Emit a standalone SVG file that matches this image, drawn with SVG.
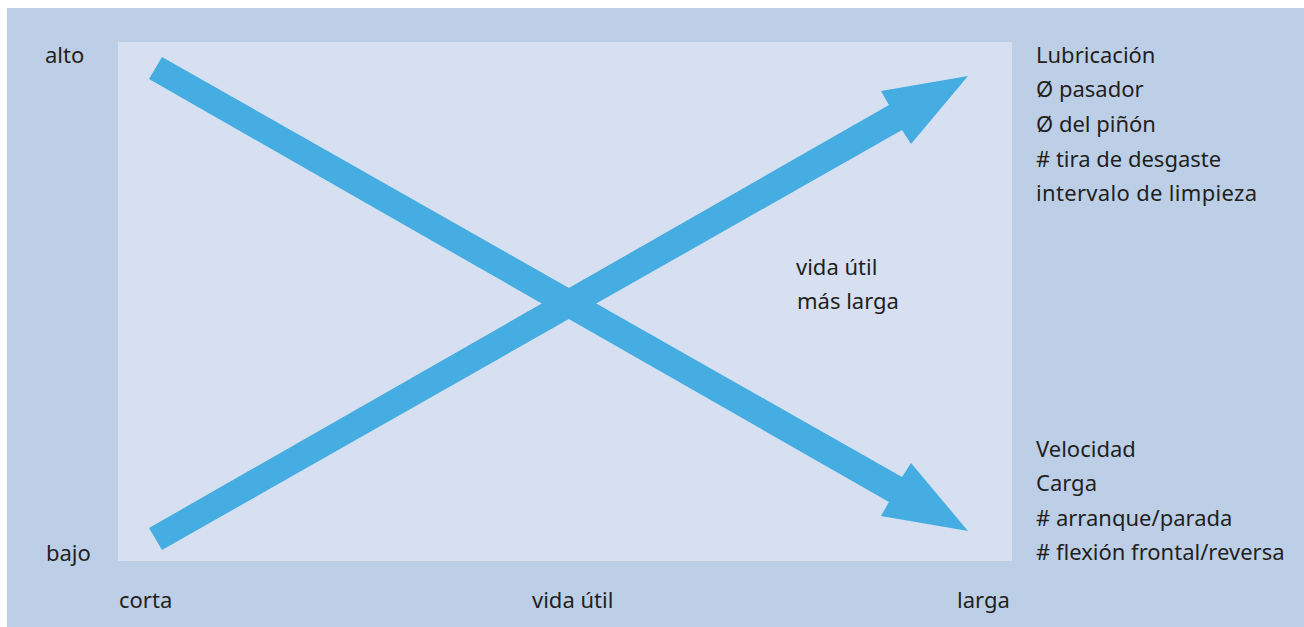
<svg xmlns="http://www.w3.org/2000/svg" width="1304" height="627" viewBox="0 0 1304 627">
<style>
text{font-family:"Noto Sans","Open Sans",sans-serif;font-size:22px;fill:#231f20}
.arr{fill:#45ade1}
</style>
<rect x="0" y="0" width="1304" height="627" fill="#ffffff"/>
<rect id="bg" x="7" y="8" width="1297" height="619" fill="#bdcfe7"/>
<rect id="plot" x="118" y="42" width="894" height="519" fill="#d6e0f1"/>
<g id="connectors">
<polygon id="arrow-down" class="arr" points="149,79 162,57 902,477 911,463 968,531 881,516 889,502"/>
<polygon id="arrow-up" class="arr" points="149,528 162,550 902,130 911,144 968,76 881,91 889,105"/>
</g>
<g id="axis-labels">
<text x="45" y="63">alto</text>
<text x="46" y="561">bajo</text>
<text x="119" y="608">corta</text>
<text x="532" y="608">vida útil</text>
<text x="957" y="608">larga</text>
</g>
<g id="center-label">
<text x="796" y="275">vida útil</text>
<text x="797" y="309">más larga</text>
</g>
<g id="top-factors">
<text x="1036" y="63">Lubricación</text>
<text x="1036" y="97">Ø pasador</text>
<text x="1036" y="132">Ø del piñón</text>
<text x="1036" y="167"># tira de desgaste</text>
<text x="1036" y="201" textLength="221">intervalo de limpieza</text>
</g>
<g id="bottom-factors">
<text x="1036" y="457">Velocidad</text>
<text x="1036" y="491">Carga</text>
<text x="1036" y="526"># arranque/parada</text>
<text x="1036" y="560"># flexión frontal/reversa</text>
</g>
</svg>
